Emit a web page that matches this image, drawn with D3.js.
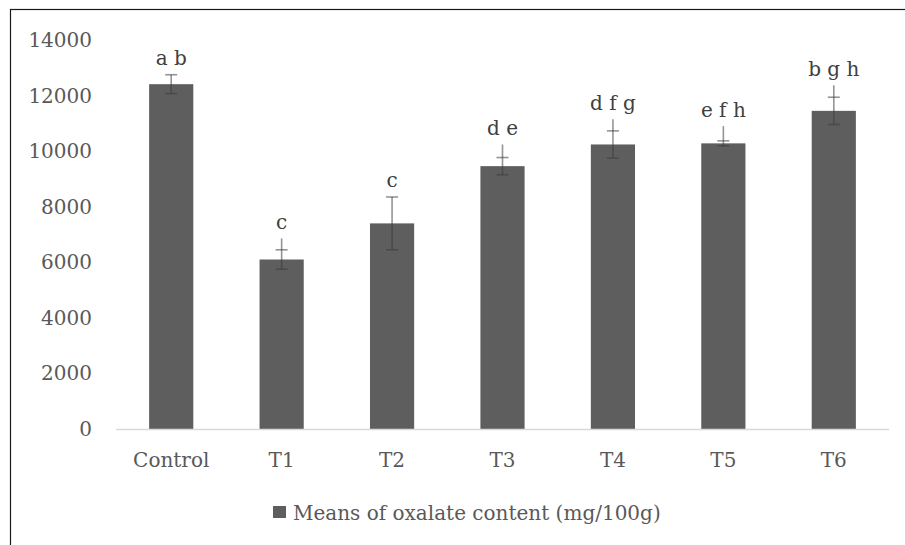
<!DOCTYPE html>
<html>
<head>
<meta charset="utf-8">
<script src="https://cdn.jsdelivr.net/npm/d3@7"></script>
<style>
  body { margin: 0; background: #fff; }
  svg { display: block; font-family: "DejaVu Serif", serif; }
</style>
</head>
<body>
<div id="d3"></div>
<script>
const categories = ["Control", "T1", "T2", "T3", "T4", "T5", "T6"];
const means = [12410, 6100, 7400, 9460, 10240, 10280, 11450];
const errors = [340, 350, 950, 310, 490, 90, 490];
// hand drawn whisker tops above the error bars (null where there is none)
const whiskerTops = [null, 6860, null, 10240, 11150, 10900, 12370];
const letters = ["a b", "c", "c", "d e", "d f g", "e f h", "b g h"];
const yTicks = [0, 2000, 4000, 6000, 8000, 10000, 12000, 14000];
const legendLabel = "Means of oxalate content (mg/100g)";

const chartWidth = 905;
const chartHeight = 545;

const svg = d3
  .select("#d3")
  .append("svg")
  .attr("width", chartWidth)
  .attr("height", chartHeight);

// ------------
// FRAME
// ------------
svg
  .append("rect")
  .attr("x", 10.5)
  .attr("y", 9.5)
  .attr("width", chartWidth)
  .attr("height", chartHeight)
  .attr("fill", "none")
  .attr("stroke", "#1a1a1a")
  .attr("stroke-width", 1.2);

const x = d3.scaleBand().domain(categories).range([116, 889]).padding(0);
const y = d3.scaleLinear().domain([0, 14000]).range([429, 40]);

const barWidth = x.bandwidth() * 0.4;
const center = (d, i) => x(categories[i]) + x.bandwidth() / 2;

// ------------
// Y AXIS LABELS
// ------------
svg
  .append("g")
  .selectAll("text")
  .data(yTicks)
  .enter()
  .append("text")
  .attr("x", 92)
  .attr("y", (d) => y(d))
  .attr("dy", "0.35em")
  .attr("text-anchor", "end")
  .attr("font-size", 20)
  .attr("fill", "#595959")
  .text((d) => d);

// ------------
// BARS
// ------------
svg
  .append("g")
  .selectAll("rect")
  .data(means)
  .enter()
  .append("rect")
  .attr("x", (d, i) => center(d, i) - barWidth / 2)
  .attr("y", (d) => y(d))
  .attr("width", barWidth)
  .attr("height", (d) => y(0) - y(d))
  .attr("fill", "#5e5e5e");

// ------------
// X AXIS LINE
// ------------
svg
  .append("line")
  .attr("x1", 116)
  .attr("x2", 889)
  .attr("y1", y(0) + 0.5)
  .attr("y2", y(0) + 0.5)
  .attr("stroke", "#d9d9d9")
  .attr("stroke-width", 1.3);

// ------------
// ERROR BARS
// ------------
const errColor = "rgba(60,60,60,0.55)";
const errG = svg.append("g");

means.forEach((m, i) => {
  const cx = center(m, i);
  const lo = m - errors[i];
  const hi = m + errors[i];
  const top = whiskerTops[i] !== null ? Math.max(hi, whiskerTops[i]) : hi;

  errG
    .append("line")
    .attr("x1", cx)
    .attr("x2", cx)
    .attr("y1", y(lo))
    .attr("y2", y(top))
    .attr("stroke", errColor)
    .attr("stroke-width", 1.6);

  [lo, hi].forEach((v) => {
    errG
      .append("line")
      .attr("x1", cx - 6)
      .attr("x2", cx + 6)
      .attr("y1", y(v))
      .attr("y2", y(v))
      .attr("stroke", errColor)
      .attr("stroke-width", 1.6);
  });
});

// ------------
// LETTERS
// ------------
svg
  .append("g")
  .selectAll("text")
  .data(letters)
  .enter()
  .append("text")
  .attr("x", (d, i) => center(d, i))
  .attr("y", (d, i) => {
    const hi = means[i] + errors[i];
    const top = whiskerTops[i] !== null ? Math.max(hi, whiskerTops[i]) : hi;
    return y(top) - 9.5;
  })
  .attr("text-anchor", "middle")
  .attr("font-size", 20)
  .attr("fill", "#404040")
  .text((d) => d);

// ------------
// CATEGORY LABELS
// ------------
svg
  .append("g")
  .selectAll("text")
  .data(categories)
  .enter()
  .append("text")
  .attr("x", (d) => x(d) + x.bandwidth() / 2)
  .attr("y", 467)
  .attr("text-anchor", "middle")
  .attr("font-size", 20)
  .attr("fill", "#595959")
  .text((d) => d);

// ------------
// LEGEND
// ------------
svg
  .append("rect")
  .attr("x", 273)
  .attr("y", 506)
  .attr("width", 13)
  .attr("height", 12)
  .attr("fill", "#5e5e5e");

svg
  .append("text")
  .attr("x", 293)
  .attr("y", 520)
  .attr("font-size", 20)
  .attr("fill", "#595959")
  .text(legendLabel);
</script>
</body>
</html>
